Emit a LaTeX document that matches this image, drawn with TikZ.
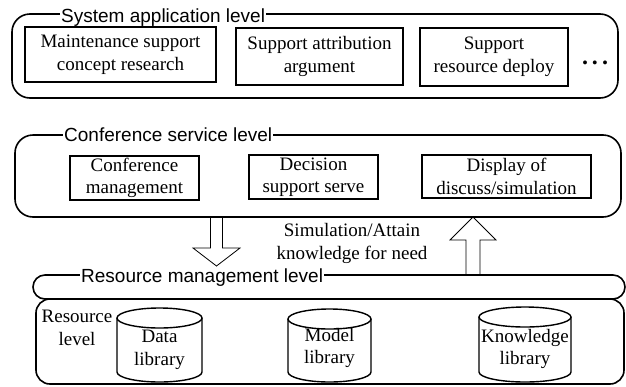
\documentclass[tikz,border=0pt]{standalone}
\usepackage{fontspec}
\setmainfont{Liberation Serif}
\setsansfont{Liberation Sans}
\newcommand\myrm{\rmfamily\fontsize{19}{22.5}\selectfont}
\newcommand\mysf{\sffamily\fontsize{19}{22}\selectfont}
\newcommand\mycyl[4]{%
  \draw[cylline] ({(#1+#2)/2},{#3+10}) ellipse[x radius={(#2-#1)/2}, y radius=10];
  \draw[cylline] (#1,{#3+10}) -- (#1,{#4-10}) arc[start angle=180,end angle=0,x radius={(#2-#1)/2},y radius=10] -- (#2,{#3+10});
}
\begin{document}
\begin{tikzpicture}[x=1pt,y=-1pt,
  outer/.style={draw, line width=1.6pt, rounded corners=18pt},
  ibox/.style={draw, line width=1.2pt, align=center, inner sep=0pt, font=\myrm},
  lvltitle/.style={fill=white, inner xsep=1pt, inner ysep=0pt, font=\mysf, anchor=base west},
  plain/.style={align=center, inner sep=0pt, font=\myrm},
  cylline/.style={draw, line width=1.4pt},
  blk/.style={draw, line width=0.8pt, line join=miter}]
\useasboundingbox (0,0) rectangle (626,386);

% System application level
\draw[outer] (12,14) rectangle (618,98);
\node[lvltitle] (t1) at (60,22) {System application level};
\node[ibox, minimum width=191pt, minimum height=55pt] (m1) at (120.5,54.5) {Maintenance support\\concept research};
\node[ibox, minimum width=167pt, minimum height=57pt] (m2) at (319.5,56.5) {Support attribution\\argument};
\node[ibox, minimum width=148pt, minimum height=58pt] (m3) at (494,57) {Support\\resource deploy};
\node[font=\bfseries\fontsize{24}{24}\selectfont, anchor=base, inner sep=0pt] (dots) at (595,64) {.\hspace{4pt}.\hspace{4pt}.};

% Conference service level
\draw[outer] (15,135) rectangle (621,217);
\node[lvltitle] (t2) at (63,141) {Conference service level};
\node[ibox, minimum width=129pt, minimum height=44pt] (c1) at (134.5,178) {Conference\\management};
\node[ibox, minimum width=129pt, minimum height=44pt] (c2) at (313.5,177) {Decision\\support serve};
\node[ibox, minimum width=169pt, minimum height=43pt] (c3) at (506.5,176.5) {Display of\\discuss/simulation};

% Resource management level
\draw[outer, rounded corners=12pt] (33,275) rectangle (625,299);
\draw[outer, rounded corners=14pt] (36,299) rectangle (624,384);
\node[lvltitle] (t3) at (80,282) {Resource management level};
\node[plain] (rl) at (77,328) {Resource\\level};

% Cylinders
\mycyl{117}{202}{308}{382}
\mycyl{288}{371}{309}{382}
\mycyl{479}{571}{307}{382}
\node[plain] (data) at (159.5,350) {Data\\library};
\node[plain] (model) at (329.5,348) {Model\\library};
\node[plain] (know) at (525,349) {Knowledge\\library};

% Block arrows
\coordinate (dtop) at (216.5,217);
\coordinate (dtip) at (216.5,266);
\coordinate (utip) at (473,217);
\coordinate (ubot) at (473,275);
\draw[blk] ([xshift=-6pt]dtop) -- ++(0,31) -- ++(-17.5,0) -- (dtip) -- ([xshift=23.5pt,yshift=18pt]dtip) -- ++(-17.5,0) -- ([xshift=6pt]dtop);
\draw[blk] ([xshift=-7pt]ubot) -- ++(0,-35) -- ++(-16,0) -- (utip) -- ([xshift=23pt,yshift=-23pt]utip) -- ++(-16,0) -- ([xshift=7pt]ubot);

\node[plain] (mid) at (352,243.5) {Simulation/Attain\\knowledge for need};
\end{tikzpicture}
\end{document}
